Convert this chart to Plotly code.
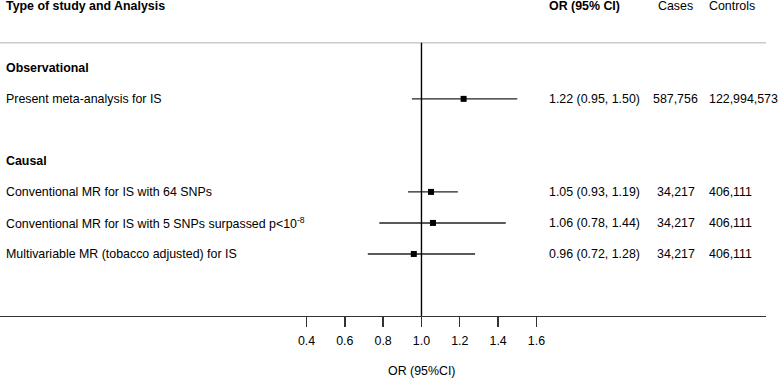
import plotly.graph_objects as go

# ---- data ----
labels = ["Present meta-analysis for IS",
          "Conventional MR for IS with 64 SNPs",
          "Conventional MR for IS with 5 SNPs surpassed p<10<sup>-8</sup>",
          "Multivariable MR (tobacco adjusted) for IS"]
row_pos = [1, 4, 5, 6]
or_vals = [1.22, 1.05, 1.06, 0.96]
ci_low = [0.95, 0.93, 0.78, 0.72]
ci_high = [1.50, 1.19, 1.44, 1.28]
or_text = ["1.22 (0.95, 1.50)", "1.05 (0.93, 1.19)", "1.06 (0.78, 1.44)", "0.96 (0.72, 1.28)"]
cases = ["587,756", "34,217", "34,217", "34,217"]
controls = ["122,994,573", "406,111", "406,111", "406,111"]
groups = ["Observational", "Causal"]
group_pos = [0, 3]
tick_vals = [0.4, 0.6, 0.8, 1.0, 1.2, 1.4, 1.6]
tick_text = ["0.4", "0.6", "0.8", "1.0", "1.2", "1.4", "1.6"]

W, H = 778, 378
FONT = "Liberation Sans, Arial, sans-serif"
FS = 12.4
PW = 765.7  # plot width in px

def px(p):
    return p / PW

fig = go.Figure()
fig.add_trace(go.Scatter(
    x=or_vals, y=row_pos, mode="markers",
    marker=dict(symbol="square", size=6, color="black"),
    error_x=dict(type="data", symmetric=False,
                 array=[h - o for h, o in zip(ci_high, or_vals)],
                 arrayminus=[o - l for o, l in zip(or_vals, ci_low)],
                 width=0, thickness=1.4, color="#222222"),
    showlegend=False, hoverinfo="skip"))

ann = []
def add(text, x, y, anchor="left", bold=False):
    ann.append(dict(text=f"<b>{text}</b>" if bold else text, x=x, y=y, xref="paper", yref="y",
                    xanchor=anchor, yanchor="middle", showarrow=False,
                    font=dict(family=FONT, size=FS, color="black")))

add("Type of study and Analysis", px(4), -2, bold=True)
add("OR (95% CI)", px(547), -2, bold=True)
add("Cases", px(675.5), -2, anchor="center")
add("Controls", px(707), -2)
for g, p in zip(groups, group_pos):
    add(g, px(4), p, bold=True)
for i in range(len(labels)):
    add(labels[i], px(4), row_pos[i])
    add(or_text[i], px(547), row_pos[i])
    add(cases[i], px(675.5), row_pos[i], anchor="center")
    add(controls[i], px(707), row_pos[i])

ann.append(dict(text="OR (95%CI)", x=1.0, y=0, xref="x", yref="paper", yshift=-55,
                xanchor="center", yanchor="middle", showarrow=False,
                font=dict(family=FONT, size=FS, color="black")))
fig.update_layout(annotations=ann)

shapes = [
    dict(type="line", xref="paper", yref="y", x0=0, x1=1, y0=-0.81, y1=-0.81,
         line=dict(color="#cccccc", width=1.5)),
    dict(type="line", xref="x", yref="y", x0=1.0, x1=1.0, y0=-0.81, y1=8.0,
         line=dict(color="black", width=1.4)),
]
fig.update_layout(shapes=shapes)

fig.update_layout(
    width=W, height=H,
    margin=dict(l=0, r=W - PW, t=0, b=62, pad=0),
    plot_bgcolor="white", paper_bgcolor="white",
    font=dict(family=FONT, size=FS, color="black"),
    xaxis=dict(range=[-1.2, 1 + (PW - 421.3) / 191.5], showgrid=False, zeroline=False,
               showline=True, linecolor="#333333", linewidth=1.4,
               tickmode="array", tickvals=tick_vals, ticktext=tick_text,
               ticks="outside", ticklen=10, tickwidth=1.4, tickcolor="#333333",
               ticklabelstandoff=3,
               tickfont=dict(family=FONT, size=FS, color="black")),
    yaxis=dict(range=[8.0, -67.8 / 31], visible=False, showgrid=False, zeroline=False),
)

fig.write_html("out.html", config={"displayModeBar": False, "staticPlot": True},
               post_script="document.body.style.margin='0px';document.body.style.overflow='hidden';")
